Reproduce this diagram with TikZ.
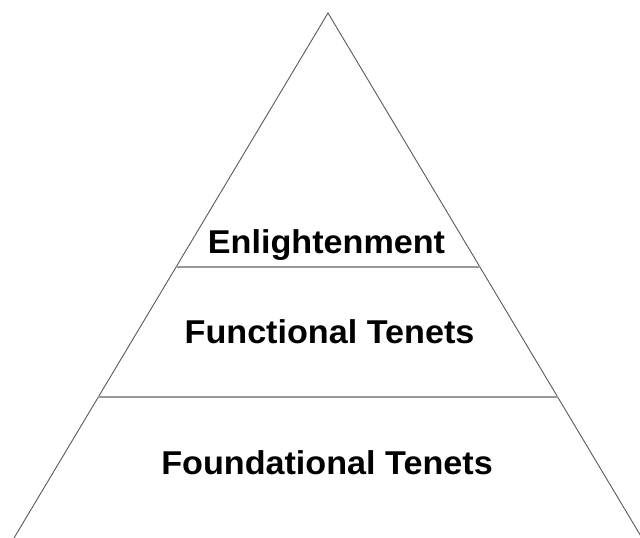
\documentclass[tikz,border=0pt]{standalone}
\usepackage{fontspec}
\setmainfont{Liberation Sans}
\usetikzlibrary{calc}

\begin{document}
\begin{tikzpicture}[x=1pt,y=-1pt,
    edge/.style={draw=black!65,line width=0.9pt},
    tier/.style={draw=black!40,line width=1.4pt},
    level/.style={anchor=base,xscale=1.035,transform shape,
                  font=\fontsize{33}{40}\bfseries\selectfont}]
\useasboundingbox (0,0) rectangle (640,538);
\clip (0,0) rectangle (640,538);

\coordinate (apex) at (328,13);
\coordinate (bl) at (14,538);
\coordinate (br) at (642,538);
\draw[edge] (bl) -- (apex) -- (br);

% dividing lines between the levels
\coordinate (t1l) at ($(apex)!0.4838!(bl)$);
\coordinate (t1r) at ($(apex)!0.4838!(br)$);
\coordinate (t2l) at ($(apex)!0.7314!(bl)$);
\coordinate (t2r) at ($(apex)!0.7314!(br)$);
\draw[tier] (t1l) -- (t1r);
\draw[tier] (t2l) -- (t2r);

\node[level] (enl) at (326.5,253) {Enlightenment};
\node[level] (fun) at (329.5,343) {Functional Tenets};
\node[level] (fou) at (327,474) {Foundational Tenets};
\end{tikzpicture}
\end{document}
